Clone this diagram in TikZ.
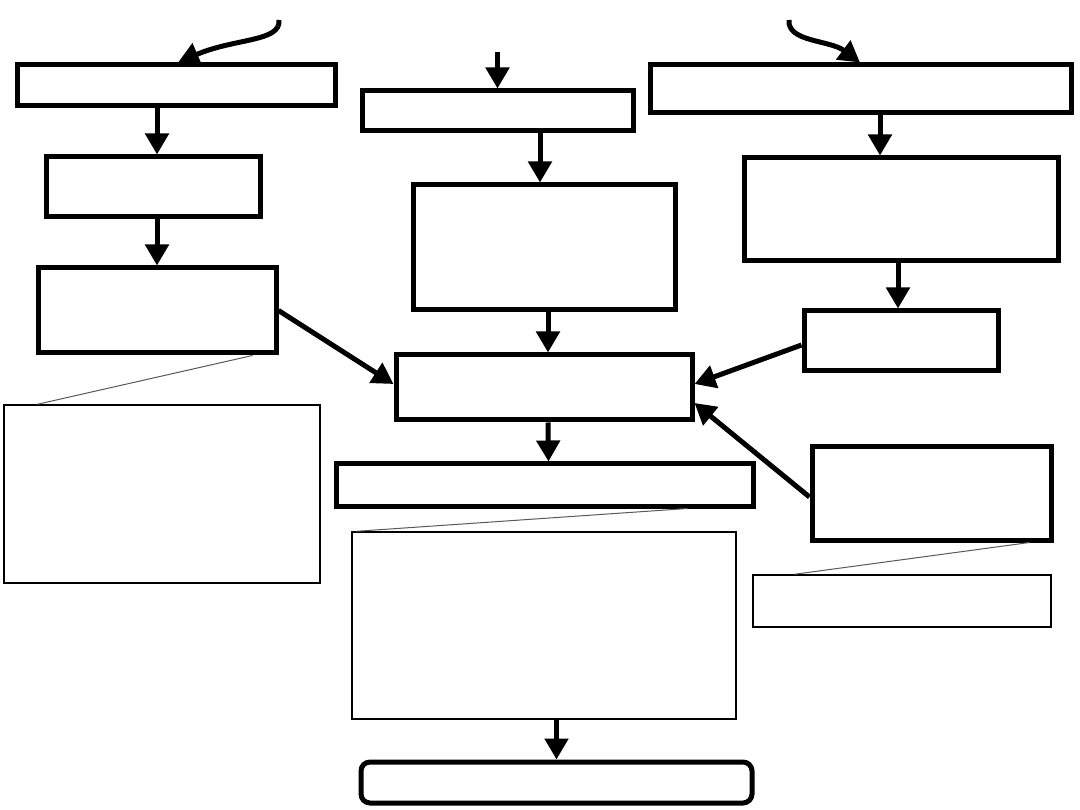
\documentclass[tikz,border=0pt]{standalone}
\usetikzlibrary{arrows.meta,calc}
\begin{document}
\begin{tikzpicture}[x=1pt,y=-1pt,
  thickbox/.style={draw=black,line width=5pt,inner sep=0pt,fill=white},
  thinbox/.style={draw=black,line width=1.4pt,inner sep=0pt,fill=white},
  roundbox/.style={draw=black,line width=5pt,inner sep=0pt,rounded corners=9pt,fill=white},
  arr/.style={line width=5pt,-{Triangle[length=21pt,width=23pt]}},
  leader/.style={draw=gray!70!black,line width=1pt}]
\path[fill=white] (0,0) rectangle (1080,810);
\useasboundingbox (0,0) rectangle (1080,810);
% boxes
\node[thickbox,minimum width=318pt,minimum height=41pt] (A) at (176,85.5) {};
\node[thickbox,minimum width=214pt,minimum height=60pt] (B) at (153,187) {};
\node[thickbox,minimum width=238pt,minimum height=85pt] (C) at (157,310.5) {};
\node[thickbox,minimum width=271pt,minimum height=40pt] (D) at (497.5,111) {};
\node[thickbox,minimum width=262pt,minimum height=125pt] (E) at (544,247.5) {};
\node[thickbox,minimum width=296pt,minimum height=65pt] (F) at (544,387.5) {};
\node[thickbox,minimum width=417pt,minimum height=42pt] (G) at (544.5,485) {};
\node[thinbox,minimum width=384pt,minimum height=187pt] (H) at (544,625.5) {};
\node[roundbox,minimum width=391pt,minimum height=41pt] (I) at (556.5,782.5) {};
\node[thickbox,minimum width=421pt,minimum height=48pt] (J) at (860.5,89) {};
\node[thickbox,minimum width=314pt,minimum height=103pt] (K) at (901,209.5) {};
\node[thickbox,minimum width=194pt,minimum height=60pt] (L) at (901,341) {};
\node[thickbox,minimum width=239pt,minimum height=93pt] (M) at (931.5,493.5) {};
\node[thinbox,minimum width=298pt,minimum height=52pt] (N) at (902,601) {};
\node[thinbox,minimum width=316pt,minimum height=178pt] (O) at (162,494) {};
% free ends
\coordinate (tc) at (497.5,52);
\coordinate (tl) at (279,20);
\coordinate (tr) at (789,20);
% leader lines
\draw[leader] ([xshift=-26pt]C.south east) -- ([xshift=34pt]O.north west);
\draw[leader] ([xshift=-68pt]G.south east) -- ([xshift=5pt]H.north west);
\draw[leader] ([xshift=-24pt]M.south east) -- ([xshift=42pt]N.north west);
% arrows
\draw[arr] (A.south -| C.north) -- (B.north -| C.north);
\draw[arr] (B.south -| C.north) -- (C.north);
\draw[arr] (tc) -- (D.north);
\draw[arr] ([xshift=-4pt]E.north |- D.south) -- ([xshift=-4pt]E.north);
\draw[arr] ([xshift=4pt]E.south) -- ([xshift=4pt]F.north);
\draw[arr] ([xshift=4pt]F.south) -- ([xshift=4pt]G.north);
\draw[arr] (H.south -| I.north) -- (I.north);
\draw[arr] ([xshift=-21pt]K.north |- J.south) -- ([xshift=-21pt]K.north);
\draw[arr] ([xshift=-3pt]K.south) -- ([xshift=-3pt]L.north);
\draw[arr] (C.east) -- ([yshift=3.5pt]F.west);
\draw[arr] ([yshift=-4pt]L.west) -- ([yshift=3.5pt]F.east);
\draw[arr] ([yshift=-3.5pt]M.west) -- ([yshift=-15.5pt]F.east);
\draw[arr] (tl) .. controls (281,42) and (235,38) .. ([xshift=2pt]A.north);
\draw[arr] (tr) .. controls (787,42) and (830,40) .. ([xshift=-0.5pt]J.north);
\end{tikzpicture}
\end{document}
